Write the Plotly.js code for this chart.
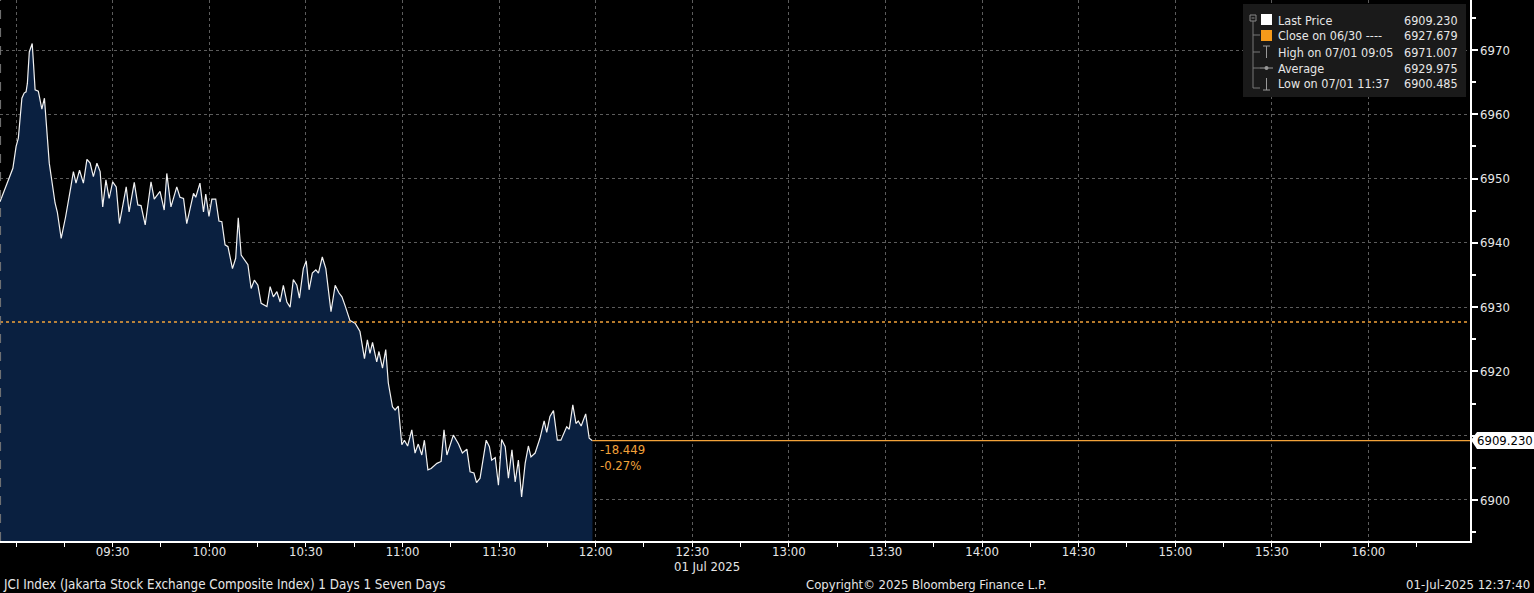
<!DOCTYPE html>
<html>
<head>
<meta charset="utf-8">
<script src="https://cdn.plot.ly/plotly-3.0.1.min.js"></script>
<style>
html,body{margin:0;padding:0;background:#000;}
#chart{width:1534px;height:593px;}
</style>
</head>
<body>
<div id="chart"></div>
<script>
// ---- data (minutes after 09:00 on 01 Jul 2025, JCI index level) ----
const minutes = [-5,-1,0,0.7,1.8,2.5,3.1,3.5,4.1,5,5.4,5.9,6.9,8,8.8,9.5,10.3,12.1,12.8,14,15.4,17,17.8,18.6,19.7,20.9,22,23,24,25.1,26.1,26.9,27.9,28.9,30,31.1,32.1,34.2,35.1,36.7,37.8,38.8,40.1,41.9,42.9,44.7,46,46.8,48.1,49.9,50.9,52,53,55.1,55.8,57.1,58.2,58.9,59.9,60.8,62,63,63.9,64.9,65.8,67.2,68.2,69,69.9,72,73,74,75.1,76.1,77.9,78.9,79.9,81,82,83,84.1,85.1,86.1,87.2,88,89.2,90.1,91,92,93.1,93.9,95.1,96.2,97.8,99.1,100.3,101.2,102.2,103.7,105.3,106.8,108.2,109.1,109.9,110.7,112,112.7,113.8,114.8,115.6,116.9,117.7,118.7,119.8,120.6,121.6,122.9,123.9,124.9,126,126.8,127.9,128.9,130.7,132,132.9,133.8,135.8,137.4,138.6,140,141,142.2,143,144.1,146,147,147.7,148.8,149.8,150.8,151.9,152.9,154,155,156,157,158.1,159.1,159.9,161.2,162.7,164,164.8,165.8,166.9,168.1,169.2,171,171.8,172.9,173.9,174.6,175.5,176.9,178,179];
const prices = [6946.4,6951.6,6955.0,6956.3,6962.5,6963.3,6963.5,6964.8,6969.7,6971.007,6967.9,6963.8,6963.6,6960.8,6962.5,6957.6,6952.4,6946.2,6944.8,6940.7,6944.1,6948.7,6951.1,6949.3,6951.3,6949.3,6953.0,6952.4,6950.3,6952.4,6951.1,6945.6,6949.8,6946.9,6949.5,6948.7,6943.0,6948.7,6944.8,6949.4,6945.9,6945.8,6942.8,6949.5,6946.8,6948.0,6945.1,6950.8,6945.6,6948.7,6947.1,6946.9,6943.0,6947.7,6947.1,6949.3,6944.8,6947.6,6944.1,6946.8,6946.8,6943.4,6943.3,6939.7,6939.4,6936.0,6937.6,6943.9,6938.1,6936.6,6932.9,6934.2,6933.4,6930.6,6930.1,6933.2,6931.6,6932.4,6930.8,6933.4,6930.8,6930.0,6934.3,6933.4,6931.4,6936.0,6937.2,6932.7,6935.3,6935.8,6935.3,6937.8,6936.0,6929.3,6933.4,6932.2,6931.6,6930.2,6927.9,6927.5,6926.2,6922.0,6924.9,6922.8,6924.5,6921.5,6923.1,6920.5,6923.4,6918.2,6914.5,6914.0,6914.6,6908.6,6909.3,6908.4,6910.9,6907.3,6908.7,6907.0,6909.3,6904.7,6904.9,6905.7,6906.0,6910.9,6907.0,6910.1,6908.7,6907.3,6907.9,6904.4,6904.2,6902.7,6903.4,6909.3,6908.3,6906.2,6906.6,6902.3,6909.4,6908.3,6903.4,6907.8,6902.8,6906.2,6900.485,6905.7,6908.4,6906.7,6907.3,6909.6,6912.3,6910.5,6913.0,6913.9,6909.3,6909.3,6911.4,6911.0,6914.8,6911.9,6912.3,6911.5,6913.4,6909.6,6909.23];

const lastPrice = 6909.230;
const prevClose = 6927.679;
const legendLabels = ["Last Price", "Close on 06/30 ----", "High on 07/01 09:05", "Average", "Low on 07/01 11:37"];
const legendValues = ["6909.230", "6927.679", "6971.007", "6929.975", "6900.485"];

const xTickMinutes = [0,30,60,90,120,150,180,210,240,270,300,330,360,390,420];
const xTickLabels = ["","09:30","10:00","10:30","11:00","11:30","12:00","12:30","13:00","13:30","14:00","14:30","15:00","15:30","16:00"];
const xMinorMinutes = [15,45,75,105,135,165,195,225,255,285,315,345,375,405,435];
const yTickValues = [6900,6910,6920,6930,6940,6950,6960,6970];
const yTickLabels = ["6900","","6920","6930","6940","6950","6960","6970"];

const footerLeft = "JCI Index (Jakarta Stock Exchange Composite Index) 1 Days 1 Seven Days";
const footerMid = "Copyright\u00a9 2025 Bloomberg Finance L.P.";
const footerRight = "01-Jul-2025 12:37:40";
const dateLabel = "01 Jul 2025";

// ---- helpers ----
const BASE = Date.UTC(2025, 6, 1, 9, 0, 0);
const T = m => BASE + m * 60000;
const xs = minutes.map(T);
const xStart = T(-5), xEnd = T(451.55);
const PW = 1470, PH = 541;
const PX = x => x / PW;
const PY = y => (PH - y) / PH;

const FONT = '"Liberation Sans Narrow", "DejaVu Sans Condensed", "Arial Narrow", sans-serif';
const TXT = '#e6e6e6';
const ORANGE = '#f2a23a';

const traces = [
  {
    x: xs, y: prices, type: 'scatter', mode: 'lines',
    fill: 'tozeroy', fillcolor: '#0a2040',
    line: {color: '#f2f2f2', width: 1.2},
    hoverinfo: 'skip'
  },
  {
    x: [xs[xs.length - 1], xEnd], y: [lastPrice, lastPrice],
    type: 'scatter', mode: 'lines',
    line: {color: ORANGE, width: 1.2}, hoverinfo: 'skip'
  }
];

const shapes = [
  {type: 'line', xref: 'paper', yref: 'y', x0: 0, x1: 1, y0: prevClose, y1: prevClose,
   line: {color: ORANGE, width: 1.5, dash: 'dot'}, layer: 'above'},
  {type: 'line', xref: 'paper', yref: 'paper', x0: 0.0004, x1: 0.0004, y0: 0, y1: 1,
   line: {color: '#777', width: 1, dash: 'dash'}},
  {type: 'rect', xref: 'paper', yref: 'paper', x0: PX(1243), x1: PX(1466), y0: PY(97), y1: PY(4),
   fillcolor: '#1a1a1a', line: {width: 0}, layer: 'above'},
  {type: 'rect', xref: 'paper', yref: 'paper', x0: PX(1250), x1: PX(1256), y0: PY(21), y1: PY(15),
   line: {color: '#888', width: 1}, layer: 'above'},
  {type: 'line', xref: 'paper', yref: 'paper', x0: PX(1251.5), x1: PX(1254.5), y0: PY(18), y1: PY(18),
   line: {color: '#888', width: 1}, layer: 'above'},
  {type: 'line', xref: 'paper', yref: 'paper', x0: PX(1253), x1: PX(1253), y0: PY(21), y1: PY(88),
   line: {color: '#777', width: 1}, layer: 'above'},
  ...[35, 52, 68, 88].map(y => ({type: 'line', xref: 'paper', yref: 'paper', x0: PX(1253), x1: PX(1260), y0: PY(y), y1: PY(y),
   line: {color: '#777', width: 1}, layer: 'above'})),
  {type: 'rect', xref: 'paper', yref: 'paper', x0: PX(1261), x1: PX(1272), y0: PY(25), y1: PY(14),
   fillcolor: '#ffffff', line: {width: 0}, layer: 'above'},
  {type: 'rect', xref: 'paper', yref: 'paper', x0: PX(1261), x1: PX(1272), y0: PY(41), y1: PY(30),
   fillcolor: '#f59a1a', line: {width: 0}, layer: 'above'},
  {type: 'line', xref: 'paper', yref: 'paper', x0: PX(1266.5), x1: PX(1266.5), y0: PY(46), y1: PY(58),
   line: {color: '#999', width: 1}, layer: 'above'},
  {type: 'line', xref: 'paper', yref: 'paper', x0: PX(1263), x1: PX(1270), y0: PY(46), y1: PY(46),
   line: {color: '#999', width: 1}, layer: 'above'},
  {type: 'line', xref: 'paper', yref: 'paper', x0: PX(1260), x1: PX(1273), y0: PY(68), y1: PY(68),
   line: {color: '#999', width: 1}, layer: 'above'},
  {type: 'circle', xref: 'paper', yref: 'paper', x0: PX(1264.5), x1: PX(1268.5), y0: PY(70), y1: PY(66),
   fillcolor: '#999', line: {width: 0}, layer: 'above'},
  {type: 'line', xref: 'paper', yref: 'paper', x0: PX(1266.5), x1: PX(1266.5), y0: PY(78), y1: PY(90),
   line: {color: '#999', width: 1}, layer: 'above'},
  {type: 'line', xref: 'paper', yref: 'paper', x0: PX(1263), x1: PX(1270), y0: PY(90), y1: PY(90),
   line: {color: '#999', width: 1}, layer: 'above'},
  {type: 'path', xref: 'paper', yref: 'paper',
   path: `M ${PX(1471)} ${PY(440)} L ${PX(1477)} ${PY(432)} L ${PX(1534)} ${PY(432)} L ${PX(1534)} ${PY(449)} L ${PX(1477)} ${PY(449)} Z`,
   fillcolor: '#ffffff', line: {width: 0}, layer: 'above'}
];

const legendRows = [20, 36, 52, 68, 84];
const annotations = [];
legendLabels.forEach((t, i) => {
  annotations.push({xref: 'paper', yref: 'paper', x: PX(1276), y: PY(legendRows[i]), xanchor: 'left', yanchor: 'middle',
    text: t, showarrow: false, font: {family: FONT, size: 12.5, color: TXT}});
  annotations.push({xref: 'paper', yref: 'paper', x: PX(1460), y: PY(legendRows[i]), xanchor: 'right', yanchor: 'middle',
    text: legendValues[i], showarrow: false, font: {family: FONT, size: 12.5, color: TXT}});
});
const chg = lastPrice - prevClose;
const pct = chg / prevClose * 100;
annotations.push({xref: 'paper', yref: 'paper', x: PX(598), y: PY(449), xanchor: 'left', yanchor: 'middle',
  text: chg.toFixed(3), showarrow: false, font: {family: FONT, size: 13, color: ORANGE}});
annotations.push({xref: 'paper', yref: 'paper', x: PX(598), y: PY(465), xanchor: 'left', yanchor: 'middle',
  text: pct.toFixed(2) + '%', showarrow: false, font: {family: FONT, size: 13, color: ORANGE}});
annotations.push({xref: 'paper', yref: 'paper', x: PX(1505), y: PY(440.5), xanchor: 'center', yanchor: 'middle',
  text: lastPrice.toFixed(3), showarrow: false, font: {family: FONT, size: 13, color: '#000'}});
annotations.push({xref: 'paper', yref: 'paper', x: PX(672), y: PY(566), xanchor: 'left', yanchor: 'middle',
  text: dateLabel, showarrow: false, font: {family: FONT, size: 13, color: TXT}});
annotations.push({xref: 'paper', yref: 'paper', x: PX(1), y: PY(584), xanchor: 'left', yanchor: 'middle',
  text: footerLeft, showarrow: false, font: {family: FONT, size: 13.3, color: TXT}});
annotations.push({xref: 'paper', yref: 'paper', x: PX(926), y: PY(584), xanchor: 'center', yanchor: 'middle',
  text: footerMid, showarrow: false, font: {family: FONT, size: 13, color: TXT}});
annotations.push({xref: 'paper', yref: 'paper', x: PX(1532), y: PY(584), xanchor: 'right', yanchor: 'middle',
  text: footerRight, showarrow: false, font: {family: FONT, size: 13, color: TXT}});

const layout = {
  width: 1534, height: 593,
  paper_bgcolor: '#000', plot_bgcolor: '#000',
  margin: {l: 0, r: 64, t: 0, b: 52, pad: 0},
  showlegend: false,
  font: {family: FONT, color: TXT, size: 13},
  xaxis: {
    type: 'date', range: [xStart, xEnd], fixedrange: true,
    tickmode: 'array', tickvals: xTickMinutes.map(T), ticktext: xTickLabels,
    showgrid: true, gridcolor: '#5c5c5c', griddash: 'dot', gridwidth: 1,
    ticks: 'outside', ticklen: 4, tickcolor: '#ffffff', tickwidth: 1,
    ticklabelstandoff: -6,
    showline: true, linecolor: '#ffffff', linewidth: 1.5,
    zeroline: false,
    tickfont: {family: FONT, size: 13, color: TXT},
    minor: {tickmode: 'array', tickvals: xMinorMinutes.map(T), ticks: 'outside', ticklen: 4, tickcolor: '#ffffff', showgrid: false}
  },
  yaxis: {
    side: 'right', range: [6893.62, 6977.78], fixedrange: true,
    tickmode: 'array', tickvals: yTickValues, ticktext: yTickLabels,
    showgrid: true, gridcolor: '#5c5c5c', griddash: 'dot', gridwidth: 1,
    ticks: 'outside', ticklen: 6, tickwidth: 2, tickcolor: '#ffffff',
    showline: true, linecolor: '#ffffff', linewidth: 1.5,
    zeroline: false,
    tickfont: {family: FONT, size: 13, color: TXT},
    minor: {dtick: 5, tick0: 6895, ticks: 'outside', ticklen: 4, tickcolor: '#ffffff', showgrid: false}
  },
  shapes: shapes,
  annotations: annotations
};

Plotly.newPlot('chart', traces, layout, {staticPlot: true, displayModeBar: false});
</script>
</body>
</html>
